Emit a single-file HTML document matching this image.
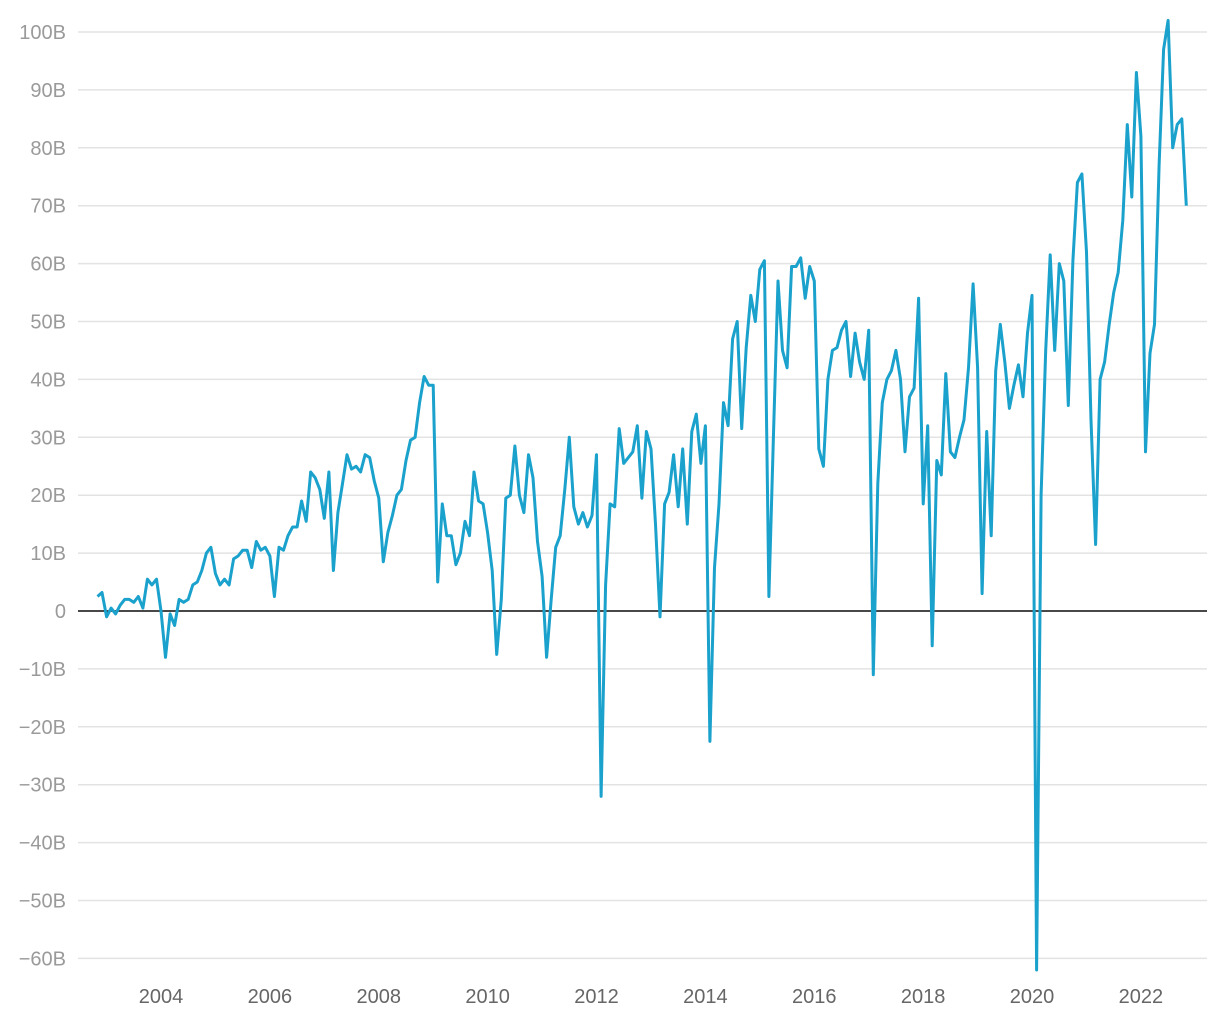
<!DOCTYPE html>
<html><head><meta charset="utf-8"><style>
body{margin:0;background:#fff;}
svg text{font-family:"Liberation Sans",sans-serif;font-size:20px;}
</style></head><body>
<svg id="chart" width="1220" height="1020" xmlns="http://www.w3.org/2000/svg">
<g id="grid"></g>
<g id="yaxis"></g>
<g id="xaxis"></g>
<line id="zero" stroke="#111" stroke-width="1.5"></line>
<path id="line" fill="none" stroke="#1aa1cc" stroke-width="3" stroke-linejoin="round"></path>
</svg>
<script>
const startYear = 2002, startMonth = 10; // Nov 2002 (0-based month)
const values = [2.5,3.2,
-1,0.5,-0.5,1,2,2,1.5,2.5,0.5,5.5,4.5,5.5,
0,-8,-0.5,-2.5,2,1.5,2,4.5,5,7,10,11,
6.5,4.5,5.5,4.5,9,9.5,10.5,10.5,7.5,12,10.5,11,
9.5,2.5,11,10.5,13,14.5,14.5,19,15.5,24,23,21,
16,24,7,17,22,27,24.5,25,24,27,26.5,22.5,
19.5,8.5,13.5,16.5,20,21,26,29.5,30,36,40.5,39,
39,5,18.5,13,13,8,10,15.5,13,24,19,18.5,
13.5,7,-7.5,2,19.5,20,28.5,20,17,27,23,12,
6,-8,2,11,13,21,30,18,15,17,14.5,16.5,
27,-32,4.5,18.5,18,31.5,25.5,26.5,27.5,32,19.5,31,
28,15,-1,18.5,20.5,27,18,28,15,31,34,25.5,
32,-22.5,7.5,18.5,36,32,47,50,31.5,45.5,54.5,50,
59,60.5,2.5,30,57,45,42,59.5,59.5,61,54,59.5,
57,28,25,40,45,45.5,48.5,50,40.5,48,43,40,
48.5,-11,22,36,40,41.5,45,40,27.5,37,38.5,54,
18.5,32,-6,26,23.5,41,27.5,26.5,30,33,42,56.5,
42,3,31,13,41.5,49.5,43,35,39,42.5,37,48,
54.5,-62,20,45,61.5,45,60,57,35.5,60.5,74,75.5,
62,33,11.5,40,43,49.5,55,58.5,67.5,84,71.5,93,
82,27.5,44.5,49.5,77,97,102,80,84,85,70];
const yTicks = [100,90,80,70,60,50,40,30,20,10,0,-10,-20,-30,-40,-50,-60];
const yTickLabels = ["100B","90B","80B","70B","60B","50B","40B","30B","20B","10B","0","−10B","−20B","−30B","−40B","−50B","−60B"];
const xTicks = [2004,2006,2008,2010,2012,2014,2016,2018,2020,2022];

const NS="http://www.w3.org/2000/svg";
function y(v){return 611-(v*5.79);}
function x(t){return 161+(t-2004)*54.44;}
const grid=document.getElementById('grid'), ya=document.getElementById('yaxis'), xa=document.getElementById('xaxis');
yTicks.forEach((v,i)=>{
  const l=document.createElementNS(NS,'line');
  
  
  l.setAttribute('x1',78);l.setAttribute('x2',1207);l.setAttribute('y1',y(v));l.setAttribute('y2',y(v));
  l.setAttribute('stroke','#e3e3e3');l.setAttribute('stroke-width','1.5');
  grid.appendChild(l);
  const t=document.createElementNS(NS,'text');
  
  
  t.setAttribute('x',66);t.setAttribute('y',y(v)+7);t.setAttribute('text-anchor','end');t.setAttribute('fill','#9a9a9a');
  t.textContent=yTickLabels[i];ya.appendChild(t);
});
xTicks.forEach(yr=>{
  const t=document.createElementNS(NS,'text');
  
  
  t.setAttribute('x',x(yr));t.setAttribute('y',1003);t.setAttribute('text-anchor','middle');t.setAttribute('fill','#666');
  t.textContent=yr;xa.appendChild(t);
});
const z=document.getElementById('zero');
z.setAttribute('x1',78);z.setAttribute('x2',1207);z.setAttribute('y1',y(0));z.setAttribute('y2',y(0));
let d='';
values.forEach((v,i)=>{
  const t=startYear+(startMonth+i)/12;
  d+=(i?'L':'M')+x(t).toFixed(1)+','+y(v).toFixed(1);
});
document.getElementById('line').setAttribute('d',d);
</script>
</body></html>
